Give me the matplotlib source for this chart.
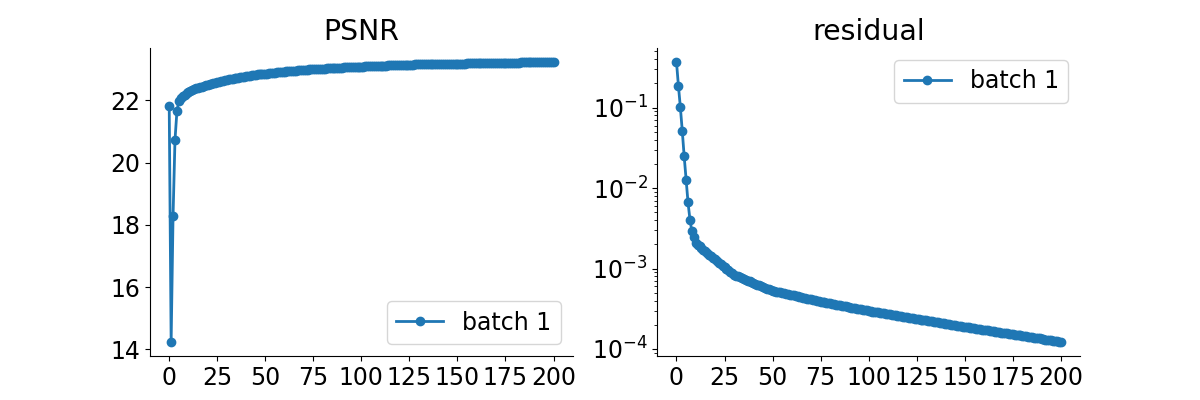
import numpy as np
import matplotlib
matplotlib.use("Agg")
import matplotlib.pyplot as plt

plt.rcParams["font.size"] = 17

# iteration index
iters = list(range(201))

# PSNR per iteration (batch 1)
psnr = [21.81, 14.235, 18.29, 20.72, 21.64, 21.98, 22.07, 22.13, 22.18, 22.22,   # 0-9
        22.26, 22.29, 22.32, 22.35, 22.38, 22.40, 22.42, 22.44, 22.46, 22.48,   # 10-19
        22.50, 22.52, 22.53, 22.55, 22.57, 22.58, 22.60, 22.61, 22.63, 22.64,   # 20-29
        22.65, 22.67, 22.68, 22.69, 22.70, 22.72, 22.73, 22.74, 22.75, 22.76,   # 30-39
        22.77, 22.78, 22.79, 22.80, 22.81, 22.82, 22.83, 22.83, 22.84, 22.85,   # 40-49
        22.86, 22.86, 22.87, 22.88, 22.88, 22.89, 22.90, 22.90, 22.91, 22.92,   # 50-59
        22.92, 22.93, 22.93, 22.94, 22.94, 22.95, 22.95, 22.96, 22.96, 22.97,   # 60-69
        22.97, 22.98, 22.98, 22.99, 22.99, 23.00, 23.00, 23.01, 23.01, 23.01,   # 70-79
        23.02, 23.02, 23.03, 23.03, 23.03, 23.04, 23.04, 23.04, 23.05, 23.05,   # 80-89
        23.05, 23.06, 23.06, 23.06, 23.06, 23.07, 23.07, 23.07, 23.08, 23.08,   # 90-99
        23.08, 23.08, 23.09, 23.09, 23.09, 23.09, 23.10, 23.10, 23.10, 23.10,   # 100-109
        23.11, 23.11, 23.11, 23.11, 23.12, 23.12, 23.12, 23.12, 23.13, 23.13,   # 110-119
        23.13, 23.13, 23.13, 23.14, 23.14, 23.14, 23.14, 23.14, 23.15, 23.15,   # 120-129
        23.15, 23.15, 23.15, 23.15, 23.16, 23.16, 23.16, 23.16, 23.16, 23.16,   # 130-139
        23.17, 23.17, 23.17, 23.17, 23.17, 23.17, 23.17, 23.18, 23.18, 23.18,   # 140-149
        23.18, 23.18, 23.18, 23.18, 23.18, 23.19, 23.19, 23.19, 23.19, 23.19,   # 150-159
        23.19, 23.19, 23.19, 23.20, 23.20, 23.20, 23.20, 23.20, 23.20, 23.20,   # 160-169
        23.20, 23.20, 23.21, 23.21, 23.21, 23.21, 23.21, 23.21, 23.21, 23.21,   # 170-179
        23.21, 23.21, 23.21, 23.22, 23.22, 23.22, 23.22, 23.22, 23.22, 23.22,   # 180-189
        23.22, 23.22, 23.22, 23.22, 23.23, 23.23, 23.23, 23.23, 23.23, 23.23,   # 190-199
        23.23]                                                                  # 200

# residual per iteration (batch 1)
residual = [0.37, 0.188, 0.102, 0.0518, 0.0248, 0.0127, 0.00664, 0.00407, 0.00292, 0.00245,   # 0-9
            2.10e-3, 1.98e-3, 1.88e-3, 1.79e-3, 1.71e-3, 1.63e-3, 1.56e-3, 1.49e-3, 1.43e-3, 1.36e-3,   # 10-19
            1.30e-3, 1.24e-3, 1.18e-3, 1.13e-3, 1.08e-3, 1.03e-3, 0.99e-3, 0.95e-3, 0.91e-3, 0.87e-3,   # 20-29
            0.840e-3, 0.818e-3, 0.797e-3, 0.777e-3, 0.758e-3, 0.740e-3, 0.723e-3, 0.707e-3, 0.692e-3, 0.677e-3,   # 30-39
            0.663e-3, 0.647e-3, 0.631e-3, 0.616e-3, 0.602e-3, 0.588e-3, 0.575e-3, 0.563e-3, 0.551e-3, 0.540e-3,   # 40-49
            0.530e-3, 0.523e-3, 0.517e-3, 0.510e-3, 0.504e-3, 0.498e-3, 0.491e-3, 0.485e-3, 0.479e-3, 0.473e-3,   # 50-59
            0.467e-3, 0.462e-3, 0.456e-3, 0.450e-3, 0.445e-3, 0.439e-3, 0.434e-3, 0.428e-3, 0.423e-3, 0.418e-3,   # 60-69
            0.413e-3, 0.407e-3, 0.402e-3, 0.397e-3, 0.393e-3, 0.388e-3, 0.384e-3, 0.380e-3, 0.376e-3, 0.372e-3,   # 70-79
            0.368e-3, 0.364e-3, 0.360e-3, 0.356e-3, 0.352e-3, 0.348e-3, 0.345e-3, 0.341e-3, 0.338e-3, 0.334e-3,   # 80-89
            0.331e-3, 0.327e-3, 0.324e-3, 0.320e-3, 0.317e-3, 0.314e-3, 0.311e-3, 0.307e-3, 0.304e-3, 0.301e-3,   # 90-99
            0.298e-3, 0.295e-3, 0.292e-3, 0.290e-3, 0.287e-3, 0.284e-3, 0.282e-3, 0.279e-3, 0.276e-3, 0.274e-3,   # 100-109
            0.271e-3, 0.269e-3, 0.266e-3, 0.264e-3, 0.261e-3, 0.259e-3, 0.256e-3, 0.254e-3, 0.252e-3, 0.249e-3,   # 110-119
            0.247e-3, 0.245e-3, 0.243e-3, 0.240e-3, 0.238e-3, 0.236e-3, 0.234e-3, 0.232e-3, 0.230e-3, 0.228e-3,   # 120-129
            0.226e-3, 0.224e-3, 0.222e-3, 0.220e-3, 0.218e-3, 0.216e-3, 0.214e-3, 0.212e-3, 0.210e-3, 0.208e-3,   # 130-139
            0.206e-3, 0.204e-3, 0.202e-3, 0.200e-3, 0.199e-3, 0.197e-3, 0.195e-3, 0.193e-3, 0.192e-3, 0.190e-3,   # 140-149
            0.188e-3, 0.186e-3, 0.185e-3, 0.183e-3, 0.182e-3, 0.180e-3, 0.179e-3, 0.177e-3, 0.176e-3, 0.174e-3,   # 150-159
            0.173e-3, 0.171e-3, 0.170e-3, 0.168e-3, 0.167e-3, 0.165e-3, 0.164e-3, 0.163e-3, 0.161e-3, 0.160e-3,   # 160-169
            0.159e-3, 0.157e-3, 0.156e-3, 0.155e-3, 0.153e-3, 0.152e-3, 0.151e-3, 0.149e-3, 0.148e-3, 0.147e-3,   # 170-179
            0.146e-3, 0.144e-3, 0.143e-3, 0.142e-3, 0.141e-3, 0.139e-3, 0.138e-3, 0.137e-3, 0.136e-3, 0.135e-3,   # 180-189
            0.133e-3, 0.132e-3, 0.131e-3, 0.130e-3, 0.129e-3, 0.128e-3, 0.127e-3, 0.126e-3, 0.124e-3, 0.123e-3,   # 190-199
            0.122e-3]                                                                                          # 200

fig, (ax1, ax2) = plt.subplots(1, 2, figsize=(12, 4))

ax1.plot(iters, psnr, 'o-', lw=2, label='batch 1')
ax1.set_title("PSNR")
ax1.legend(loc='lower right')

ax2.semilogy(iters, residual, 'o-', lw=2, label='batch 1')
ax2.set_title("residual")
ax2.legend(loc='upper right')

for ax in (ax1, ax2):
    ax.spines['top'].set_visible(False)
    ax.spines['right'].set_visible(False)
    ax.set_xticks([0, 25, 50, 75, 100, 125, 150, 175, 200])

fig.savefig("out.png", dpi=100)
